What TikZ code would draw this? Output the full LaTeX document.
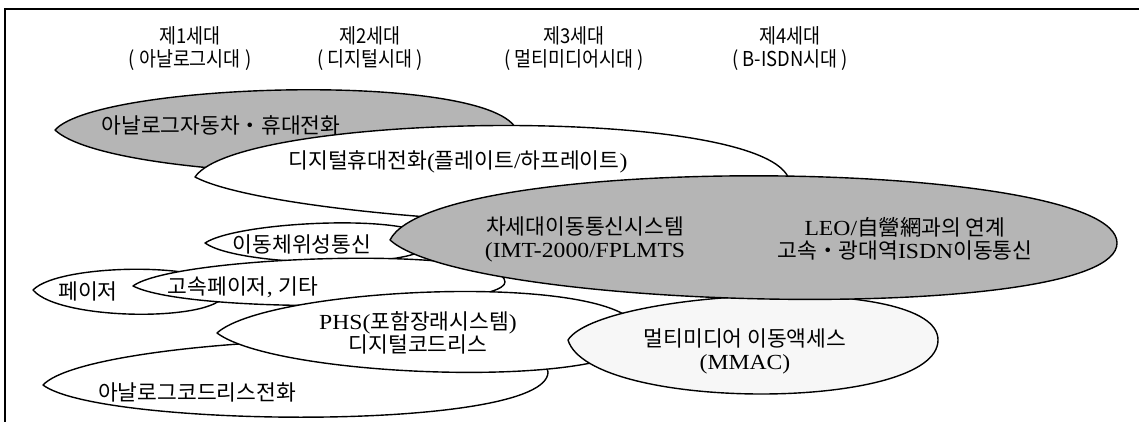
\documentclass[tikz,border=0pt]{standalone}
\usepackage{fontspec}
\setmainfont[FakeStretch=1.1]{Liberation Serif}
\newfontfamily\kr{Noto Sans CJK KR}
\newfontfamily\krh[FakeStretch=0.9]{Noto Sans CJK KR}
\newcommand\K[1]{{\kr #1}}
\definecolor{halftone}{gray}{0.71}
\definecolor{speck}{gray}{0.97}
\begin{document}
\begin{tikzpicture}[x=1pt,y=-1pt,
  blob/.style={draw=black,line width=1.4pt,line join=round},
  graybl/.style={blob,fill=halftone},
  whitebl/.style={blob,fill=white},
  lightbl/.style={blob,fill=speck},
  lbl/.style={font=\fontsize{21.5}{23}\selectfont,align=center,inner sep=0pt},
  hdr/.style={font=\krh\fontsize{20.5}{23}\selectfont,align=center,inner sep=0pt}]
% y axis points down: coordinates are pixel positions of the 1139x422 picture
\useasboundingbox (0,0) rectangle (1139,422);
\fill[white] (0,0) rectangle (1139,422);
% frame
\draw[line width=1.5pt] (5,422) -- (5,9) -- (1139,9);

% headers
\node[hdr] (h1) at (190,49) {제1세대\\(\hspace{0.2em}아날로그시대\hspace{0.2em})};
\node[hdr] (h2) at (370,49) {제2세대\\(\hspace{0.2em}디지털시대\hspace{0.2em})};
\node[hdr] (h3) at (574,49) {제3세대\\(\hspace{0.2em}멀티미디어시대\hspace{0.2em})};
\node[hdr] (h4) at (790,49) {제4세대\\(\hspace{0.2em}B-ISDN시대\hspace{0.2em})};

% 1 gray: analog car / mobile phone
\draw[graybl] (55,130) .. controls (100,80) and (525,70) .. (518,138)
  .. controls (512,190) and (110,182) .. (55,130) -- cycle;
% 2 white: digital mobile phone
\draw[whitebl] (195,177) .. controls (240,110) and (790,104) .. (790,185)
  .. controls (790,250) and (280,222) .. (195,177) -- cycle;
% 3 mobile satellite
\draw[whitebl] (205,243) .. controls (240,220) and (430,213) .. (430,242)
  .. controls (430,270) and (240,268) .. (205,243) -- cycle;
% 5 pager
\draw[whitebl] (33,290) .. controls (60,262) and (225,262) .. (225,292)
  .. controls (225,322) and (60,322) .. (33,290) -- cycle;
% 6 high-speed pager
\draw[whitebl] (133,286) .. controls (175,255) and (505,245) .. (505,282)
  .. controls (505,310) and (190,315) .. (133,286) -- cycle;
% 8 analog cordless phone
\draw[whitebl] (43,385) .. controls (90,335) and (548,320) .. (548,372)
  .. controls (548,432) and (100,428) .. (43,385) -- cycle;
% 7 PHS
\draw[whitebl] (217,333) .. controls (270,285) and (640,270) .. (640,335)
  .. controls (640,390) and (280,380) .. (217,333) -- cycle;
% 9 MMAC
\draw[lightbl] (568,340) .. controls (600,290) and (938,272) .. (938,340)
  .. controls (938,412) and (590,412) .. (568,340) -- cycle;
% 4 big gray: next generation
\draw[graybl] (390,240) .. controls (435,150) and (1117,158) .. (1117,243)
  .. controls (1117,325) and (470,312) .. (390,240) -- cycle;

% labels
\node[lbl] (t1) at (221,125) {\K{아날로그자동차・휴대전화}};
\node[lbl] (t2) at (458,162) {\K{디지털휴대전화}(\K{플레이트}/\K{하프레이트})};
\node[lbl] (t3) at (302,244) {\K{이동체위성통신}};
\node[lbl] (t4a) at (585,239) {\K{차세대이동통신시스템}\\(IMT-2000/FPLMTS};
\node[lbl] (t4b) at (905,239) {LEO/\K{自營網과의 연계}\\\K{고속・광대역}ISDN\K{이동통신}};
\node[lbl] (t5) at (88,291) {\K{페이저}};
\node[lbl] (t6) at (243,287) {\K{고속페이저}, \K{기타}};
\node[lbl] (t7) at (418,333) {PHS(\K{포함장래시스템})\\\K{디지털코드리스}};
\node[lbl] (t8) at (197,392) {\K{아날로그코드리스전화}};
\node[lbl] (t9) at (745,351) {\K{멀티미디어 이동액세스}\\(MMAC)};
\end{tikzpicture}
\end{document}
